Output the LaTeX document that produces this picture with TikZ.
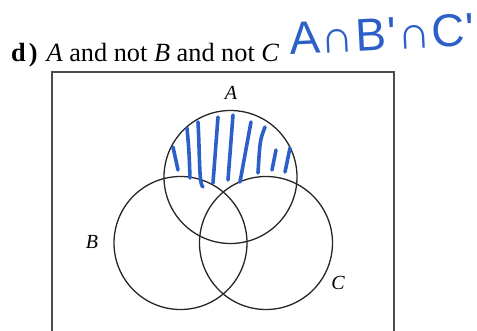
\documentclass[tikz,border=0pt]{standalone}
\usepackage{fontspec}
\setmainfont{Liberation Serif}
\newfontfamily\handfont{Liberation Sans}
\definecolor{penblue}{RGB}{45,95,200}
\tikzset{
  setline/.style={line width=1.3pt, black!85},
  hatch/.style={penblue, line width=3.6pt, line cap=round},
  setlabel/.style={font=\fontsize{20}{22}\selectfont\itshape, inner sep=0pt}
}
\begin{document}
\begin{tikzpicture}[x=1pt, y=-1pt]
  \useasboundingbox (0,0) rectangle (477,330);
  \clip (0,0) rectangle (477,330);
  % Coordinates
  \coordinate (CA) at (230.5,177);
  \coordinate (CB) at (180.5,243);
  \coordinate (CC) at (266,243);
  \coordinate (UL) at (52,72);
  \coordinate (UR) at (394,340);

  % Drawing
  \node[anchor=base west, inner sep=0pt, font=\fontsize{26.3}{29}\selectfont] (title) at (11,61)
    {\textbf{d\kern3pt)}\kern9pt\textit{A} and not \textit{B} and not \textit{C}};
  \node[anchor=base west, inner sep=0pt, penblue, rotate=3,
        font=\handfont\fontsize{46}{50}\selectfont] (answer) at (290,55)
    {A\kern1pt ∩\kern2pt B\kern1pt'\kern1pt ∩\kern1pt C\kern1pt'};
  \draw[line width=1.2pt, black!70] (UL) rectangle (UR);
  \draw[setline] (CA) circle (66.5);
  \draw[setline] (CB) circle (66.5);
  \draw[setline] (CC) circle (66.5);
  \node[setlabel] (labA) at (231,93) {A};
  \node[setlabel] (labB) at (92,242) {B};
  \node[setlabel] (labC) at (338,283) {C};

  % Shading by hand
  \draw[hatch] (173,147) -- (178,170);
  \draw[hatch] (187,128) .. controls (189,150) .. (190,178);
  \draw[hatch] (198,122) .. controls (200,160) and (199,185) .. (203,187);
  \draw[hatch] (218,117) -- (213,183);
  \draw[hatch] (233,115) -- (228,180);
  \draw[hatch] (251,122) -- (240,182);
  \draw[hatch] (265,127) .. controls (260,140) .. (258,173);
  \draw[hatch] (276,150) -- (272,170);
  \draw[hatch] (290,148) -- (285,172);
\end{tikzpicture}
\end{document}
